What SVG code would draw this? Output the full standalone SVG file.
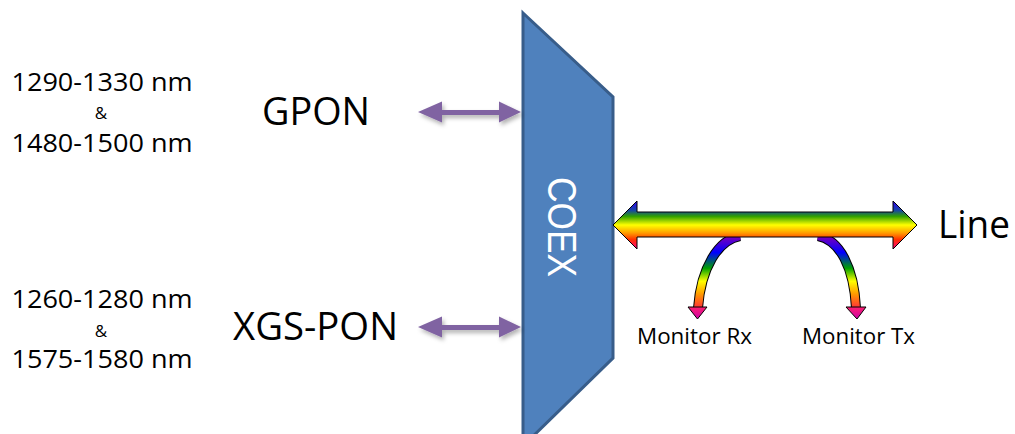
<svg xmlns="http://www.w3.org/2000/svg" width="1015" height="434" viewBox="0 0 1015 434">
<style>
  .lbl { font-family: "Open Sans", "Liberation Sans", sans-serif; fill: #000; }
  .num { font-size: 26px; text-anchor: middle; }
  .amp { font-size: 17px; text-anchor: middle; }
  .big { font-size: 38px; }
  .mon { font-size: 21px; }
  .purple { fill: #8064A2; filter: url(#sh); }
  .band-o { fill: none; stroke: #000; stroke-width: 10; stroke-linecap: butt; }
  .band-i { fill: none; stroke: url(#cg); stroke-width: 8; stroke-linecap: butt; }
  .head { fill: url(#hg); stroke: #000; stroke-width: 1; stroke-linejoin: miter; }
</style>
<defs>
  <filter id="sh" x="-20%" y="-50%" width="140%" height="200%">
    <feDropShadow dx="2" dy="3" stdDeviation="2" flood-color="#000" flood-opacity="0.3"/>
  </filter>
  <linearGradient id="lg" gradientUnits="userSpaceOnUse" x1="0" y1="201" x2="0" y2="249">
    <stop offset="0" stop-color="#3300FF"/>
    <stop offset="0.2" stop-color="#1848A0"/>
    <stop offset="0.32" stop-color="#30A000"/>
    <stop offset="0.5" stop-color="#FFFF00"/>
    <stop offset="0.67" stop-color="#FF9900"/>
    <stop offset="0.8" stop-color="#FF3300"/>
    <stop offset="1" stop-color="#FF0080"/>
  </linearGradient>
  <linearGradient id="cg" gradientUnits="userSpaceOnUse" x1="0" y1="238" x2="0" y2="310">
    <stop offset="0" stop-color="#7000C0"/>
    <stop offset="0.2" stop-color="#0000FF"/>
    <stop offset="0.42" stop-color="#00A000"/>
    <stop offset="0.6" stop-color="#FFFF00"/>
    <stop offset="0.78" stop-color="#FF9900"/>
    <stop offset="1" stop-color="#FF2040"/>
  </linearGradient>
  <linearGradient id="hg" x1="0" y1="0" x2="0" y2="1">
    <stop offset="0" stop-color="#FF2070"/>
    <stop offset="1" stop-color="#CC00AA"/>
  </linearGradient>
</defs>

<g id="coex">
  <polygon points="523,13 613,97 613,358 523,446" fill="#4F81BD" stroke="#385D8A" stroke-width="3" stroke-linejoin="miter"/>
  <text x="562" y="227" transform="rotate(90 562 227)" text-anchor="middle" dominant-baseline="central" font-family="Liberation Sans, sans-serif" font-size="41" fill="#FFFFFF" textLength="100" lengthAdjust="spacingAndGlyphs">COEX</text>
</g>

<g id="gpon-range">
  <text class="lbl num" x="102" y="91" textLength="181" lengthAdjust="spacingAndGlyphs">1290-1330 nm</text>
  <text class="lbl amp" x="101" y="119">&amp;</text>
  <text class="lbl num" x="102" y="152" textLength="181" lengthAdjust="spacingAndGlyphs">1480-1500 nm</text>
</g>
<g id="xgs-range">
  <text class="lbl num" x="102" y="308" textLength="181" lengthAdjust="spacingAndGlyphs">1260-1280 nm</text>
  <text class="lbl amp" x="101" y="337">&amp;</text>
  <text class="lbl num" x="102" y="368" textLength="181" lengthAdjust="spacingAndGlyphs">1575-1580 nm</text>
</g>

<g id="gpon">
  <text class="lbl big" x="262" y="125" textLength="108" lengthAdjust="spacingAndGlyphs">GPON</text>
</g>
<g id="xgs-pon">
  <text class="lbl big" x="233" y="340" textLength="165" lengthAdjust="spacingAndGlyphs">XGS-PON</text>
</g>
<g id="line">
  <text class="lbl big" x="938" y="238" textLength="72" lengthAdjust="spacingAndGlyphs">Line</text>
</g>
<g id="monitor-rx">
  <text class="lbl mon" x="637" y="344" textLength="115" lengthAdjust="spacingAndGlyphs">Monitor Rx</text>
</g>
<g id="monitor-tx">
  <text class="lbl mon" x="802" y="344" textLength="113" lengthAdjust="spacingAndGlyphs">Monitor Tx</text>
</g>

<g id="connectors">
  <polygon class="purple" points="418,112 442,101.5 442,110 499,110 499,101.5 521,112 499,122.5 499,115 442,115 442,122.5"/>
  <polygon class="purple" points="418,327 442,316.5 442,325 499,325 499,316.5 521,327 499,337.5 499,330 442,330 442,337.5"/>

  <path class="band-o" d="M 740 236 C 718 240 701 268 698 308"/>
  <path class="band-i" d="M 740 236 C 718 240 701 268 698 308"/>
  <polygon class="head" points="688,307 707,307 697.5,319"/>
  <path class="band-o" d="M 818 236 C 840 240 854 268 856 308"/>
  <path class="band-i" d="M 818 236 C 840 240 854 268 856 308"/>
  <polygon class="head" points="846,307 866,307 857,319"/>

  <polygon points="613,225 637,201 637,212 893,212 893,201 917,225 893,249 893,237 637,237 637,249" fill="url(#lg)" stroke="#000" stroke-width="1"/>
</g>
</svg>
